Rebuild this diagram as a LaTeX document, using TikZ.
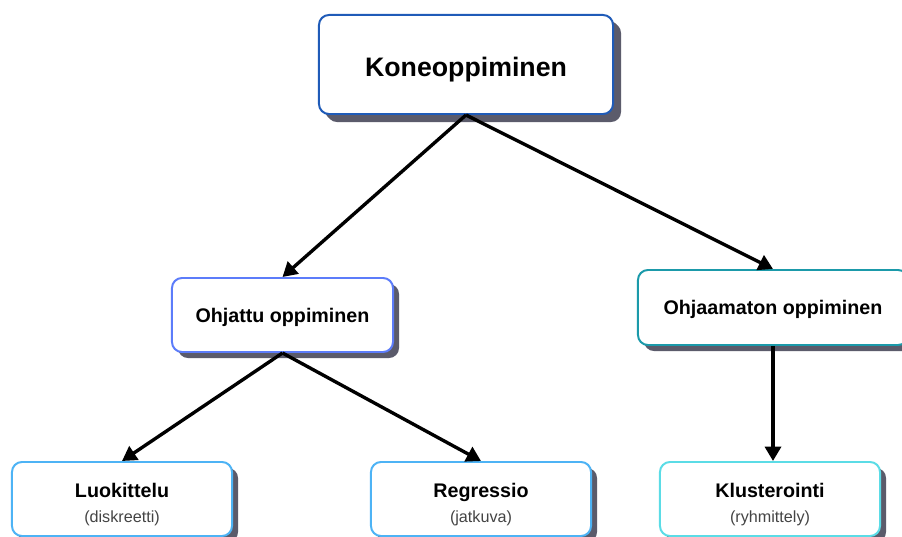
\documentclass[tikz,border=0pt]{standalone}
\usepackage{fontspec}
\setmainfont{Liberation Sans}
\usetikzlibrary{positioning,arrows.meta,shadows}

\definecolor{rootblue}{HTML}{1F5BB8}
\definecolor{supblue}{HTML}{5C7CFA}
\definecolor{unsupteal}{HTML}{1B9AAA}
\definecolor{leafblue}{HTML}{4DB3F5}
\definecolor{leafcyan}{HTML}{5BDCE6}
\definecolor{shadowgray}{HTML}{5B5B6B}
\definecolor{subgray}{HTML}{444444}

\tikzset{
  box/.style={draw, fill=white, rounded corners=0.25cm, line width=1.4pt,
    align=center, font=\bfseries\fontsize{14}{17}\selectfont,
    drop shadow={shadow xshift=0.15cm, shadow yshift=-0.15cm, fill=shadowgray, opacity=1}},
  leaf/.style={box, minimum width=5.5cm, minimum height=1.85cm},
  link/.style={line width=2.4pt, -{Triangle[length=0.36cm, width=0.4cm]}}
}
\newcommand{\leaftext}[2]{\rule{0pt}{18pt}#1\\[1pt]{\mdseries\fontsize{11.5}{14}\selectfont\color{subgray}#2}}

\begin{document}
\begin{tikzpicture}[x=0.025cm, y=-0.025cm]
  \clip (0,0) rectangle (902,537);
  % root
  \node[box, draw=rootblue, minimum width=7.35cm, minimum height=2.475cm,
        font=\bfseries\fontsize{19}{22}\selectfont, text height=20.5pt,
        drop shadow={shadow xshift=0.2cm, shadow yshift=-0.2cm, fill=shadowgray, opacity=1}]
        (ml) at (466,64.5) {Koneoppiminen};
  % second level
  \node[box, draw=supblue, minimum width=5.525cm, minimum height=1.85cm, text height=13pt]
        (sup) at (282.5,315) {Ohjattu oppiminen};
  \node[box, draw=unsupteal, minimum width=6.75cm, minimum height=1.875cm, text height=13pt]
        (unsup) at (773,307.5) {Ohjaamaton oppiminen};
  % leaves
  \node[leaf, draw=leafblue] (cls) at (122,499) {\leaftext{Luokittelu}{(diskreetti)}};
  \node[leaf, draw=leafblue] (reg) at (481,499) {\leaftext{Regressio}{(jatkuva)}};
  \node[leaf, draw=leafcyan] (clu) at (770,499) {\leaftext{Klusterointi}{(ryhmittely)}};
  % connectors
  \draw[link] (ml.south) -- (sup.north);
  \draw[link] (ml.south) -- (unsup.north);
  \draw[link] (sup.south) -- (cls.north);
  \draw[link] (sup.south) -- (reg.north);
  \draw[link] (unsup.south) -- (unsup.south |- clu.north);
\end{tikzpicture}
\end{document}
